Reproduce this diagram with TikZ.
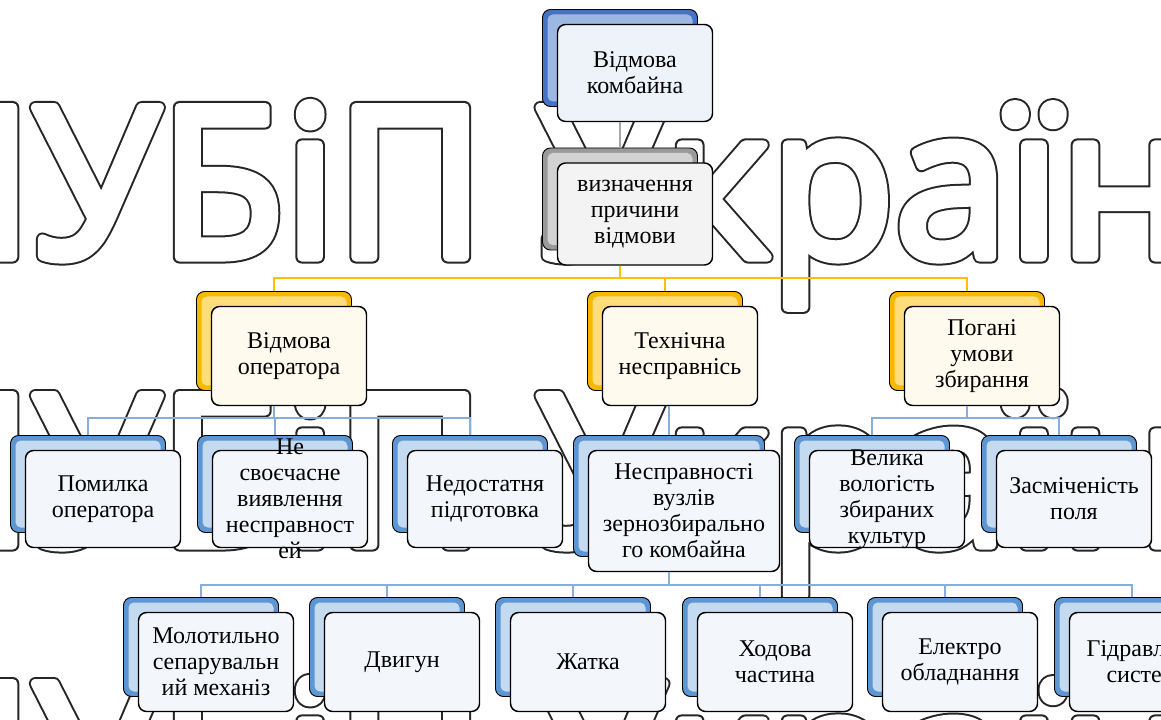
\documentclass[tikz,border=0pt]{standalone}
\usepackage{fontspec}
\setmainfont{Liberation Serif}
\newfontfamily\wmfont{Open Sans}[FakeStretch=0.974]
\usetikzlibrary{calc}
\definecolor{rtOut}{HTML}{4472C4}
\definecolor{rtIn}{HTML}{9DB7E3}
\definecolor{rtFill}{HTML}{EEF3FA}
\definecolor{grOut}{HTML}{9A9A9A}
\definecolor{grIn}{HTML}{D2D2D2}
\definecolor{grFill}{HTML}{F3F3F3}
\definecolor{ylOut}{HTML}{F7B900}
\definecolor{ylIn}{HTML}{FFDD7A}
\definecolor{ylFill}{HTML}{FFFAEE}
\definecolor{blOut}{HTML}{5E95D3}
\definecolor{blIn}{HTML}{C3DAF1}
\definecolor{blFill}{HTML}{F3F7FC}
\definecolor{gLine}{HTML}{A6A6A6}
\definecolor{yLine}{HTML}{FFC000}
\definecolor{bLine}{HTML}{86AEDD}
\tikzset{
  bk/.style n args={2}{draw=black, line width=0.7pt, rounded corners=6pt, fill=#1, inner sep=0pt,
    path picture={\fill[#2, rounded corners=4pt] ([shift={(5,5)}]path picture bounding box.north west) rectangle ([shift={(-5,-5)}]path picture bounding box.south east);}},
  fr/.style={draw=black, line width=1.1pt, rounded corners=6pt, fill=#1, inner sep=0pt},
  rtB/.style={bk={rtOut}{rtIn}}, rtF/.style={fr=rtFill},
  grB/.style={bk={grOut}{grIn}}, grF/.style={fr=grFill},
  ylB/.style={bk={ylOut}{ylIn}}, ylF/.style={fr=ylFill},
  blB/.style={bk={blOut}{blIn}}, blF/.style={fr=blFill},
  txt/.style={align=center, inner sep=0pt, font=\fontsize{18}{19.5}\selectfont},
  gline/.style={draw=gLine, line width=1.3pt},
  yline/.style={draw=yLine, line width=1.6pt},
  bline/.style={draw=bLine, line width=1.2pt},
  wm/.style={anchor=base west, inner sep=0pt, font=\wmfont\fontsize{157}{160}\selectfont},
}
\newcommand\smbox[7]{%
  \node[#6B, minimum width=#4*0.75pt, minimum height=#5*0.75pt] (#1B) at (#2-15,#3-15) {};
  \node[#6F, minimum width=#4*0.75pt, minimum height=#5*0.75pt] (#1) at (#2,#3) {};
  \node[txt] (#1T) at (#1.center) {#7};}
\newcommand\wmrow[2]{%
  \node[wm, text=black!85] (#1s) at (-118,#2) {\special{pdf:literal direct 1 Tr 9.8 w 1 j}НУБіП України\special{pdf:literal direct 0 Tr 1 w 0 j}};
  \node[wm, text=white] (#1) at (-118,#2) {\special{pdf:literal direct 2 Tr 6.8 w 1 j}НУБіП України\special{pdf:literal direct 0 Tr 1 w 0 j}};}
\begin{document}
\begin{tikzpicture}[x=0.75pt,y=-0.75pt]
\useasboundingbox (0,0) rectangle (1161,720);
\clip (0,0) rectangle (1161,720);
\fill[white] (0,0) rectangle (1161,720);
% watermark
\wmrow{wa}{257}
\wmrow{wb}{545}
\wmrow{wc}{833}
% boxes
\smbox{root}{635}{73}{155}{97}{rt}{Відмова\\комбайна}
\smbox{def}{635}{214}{155}{102}{gr}{визначення\\причини\\відмови}
\smbox{op}{289}{356}{155}{99}{yl}{Відмова\\оператора}
\smbox{tech}{680}{356}{155}{99}{yl}{Технічна\\несправнісь}
\smbox{cond}{982}{356}{155}{99}{yl}{Погані\\умови\\збирання}
\smbox{err}{103}{499}{155}{97}{bl}{Помилка\\оператора}
\smbox{late}{290}{499}{155}{97}{bl}{Не\\своєчасне\\виявлення\\несправност\\ей}
\smbox{train}{485}{499}{155}{97}{bl}{Недостатня\\підготовка}
\smbox{units}{684}{511}{191}{121}{bl}{Несправності\\вузлів\\зернозбирально\\го комбайна}
\smbox{hum}{887}{499}{155}{97}{bl}{Велика\\вологість\\збираних\\культур}
\smbox{dirt}{1074}{499}{155}{97}{bl}{Засміченість\\поля}
\smbox{thr}{216}{662}{155}{99}{bl}{Молотильно\\сепарувальн\\ий механіз}
\smbox{eng}{402}{662}{155}{99}{bl}{Двигун}
\smbox{head}{588}{662}{155}{99}{bl}{Жатка}
\smbox{chas}{775}{662}{155}{99}{bl}{Ходова\\частина}
\smbox{elec}{960}{662}{155}{99}{bl}{Електро\\обладнання}
\smbox{hyd}{1147}{662}{155}{99}{bl}{Гідравлічна\\система}
% connectors
\draw[gline] (rootB.center |- root.south) -- (defB.north);
\coordinate (yb) at (0,278);
\coordinate (b1) at (0,418);
\coordinate (b2) at (0,585);
\foreach \c in {op,tech,cond}
  \draw[yline] (defB.center |- def.south) -- (defB.center |- yb) -| (\c B.north);
\foreach \c in {err,late,train}
  \draw[bline] (opB.center |- op.south) -- (opB.center |- b1) -| (\c B.north);
\draw[bline] (unitsB.center |- tech.south) -- (unitsB.north);
\foreach \c in {hum,dirt}
  \draw[bline] (condB.center |- cond.south) -- (condB.center |- b1) -| (\c B.north);
\foreach \c in {thr,eng,head,chas,elec,hyd}
  \draw[bline] (unitsB.center |- units.south) -- (unitsB.center |- b2) -| (\c B.north);
\end{tikzpicture}
\end{document}
